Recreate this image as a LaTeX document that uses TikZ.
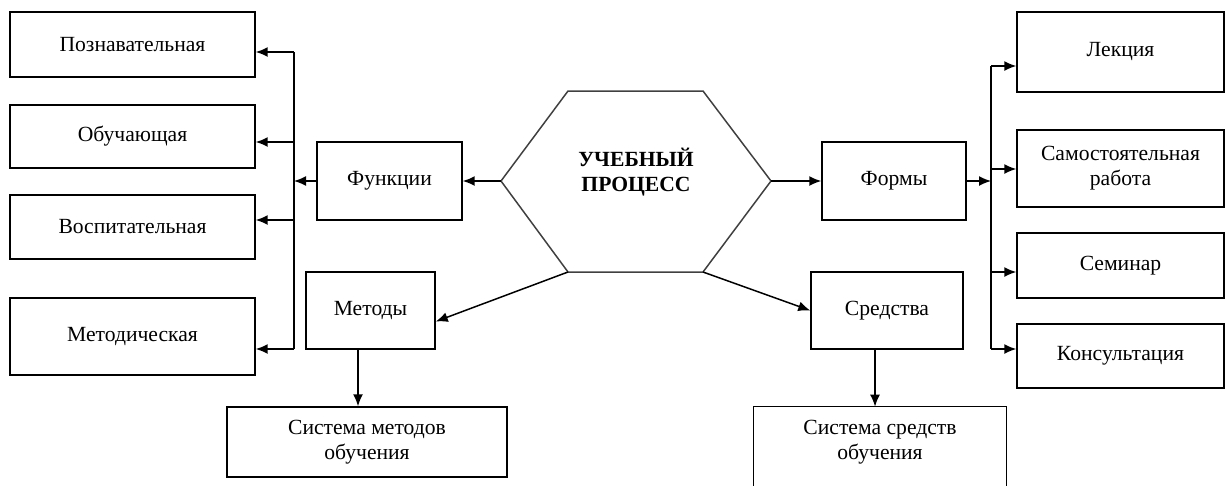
\documentclass[tikz,border=0pt]{standalone}
\usepackage{fontspec}
\setmainfont{Liberation Serif}
\usetikzlibrary{arrows.meta}
\tikzstyle{box}=[draw, rectangle, line width=0.85pt, align=center, inner sep=2pt, font=\fontsize{12.3}{14.2}\selectfont]
\tikzstyle{plain}=[rectangle, align=center, inner sep=2pt, font=\fontsize{12.3}{14.2}\selectfont]
\tikzstyle{arr}=[-{Latex[length=2.4mm,width=2mm]}, line width=0.85pt]

\begin{document}
\begin{tikzpicture}[x=0.02cm, y=-0.02cm]
  \useasboundingbox (0,0) rectangle (1226,485);

  % centre
  \coordinate (hl)  at (501,181);
  \coordinate (htl) at (568,91);
  \coordinate (htr) at (703,91);
  \coordinate (hr)  at (771,181);
  \coordinate (hbr) at (703,272);
  \coordinate (hbl) at (568,272);
  \draw[line width=0.85pt, black!75] (hl) -- (htl) -- (htr) -- (hr) -- (hbr) -- (hbl) -- cycle;
  \node[plain, font=\fontsize{12.3}{14.2}\selectfont\bfseries] (proc) at (636,172) {УЧЕБНЫЙ\\ПРОЦЕСС};

  % left side
  \node[box, minimum width=4.9cm, minimum height=1.3cm]  (poz)   at (132.5,44.5)  {Познавательная};
  \node[box, minimum width=4.9cm, minimum height=1.26cm] (obu)   at (132.5,136.5) {Обучающая};
  \node[box, minimum width=4.9cm, minimum height=1.28cm] (vos)   at (132.5,227)   {Воспитательная};
  \node[box, minimum width=4.9cm, minimum height=1.54cm] (metod) at (132.5,336.5) {Методическая};
  \node[box, minimum width=2.9cm, minimum height=1.56cm] (fun)   at (389.5,181)   {Функции};

  % right side
  \node[box, minimum width=2.88cm, minimum height=1.56cm] (form) at (894,181)      {Формы};
  \node[box, minimum width=4.14cm, minimum height=1.6cm]  (lek)  at (1120.5,52)    {Лекция};
  \node[box, minimum width=4.14cm, minimum height=1.54cm] (sam)  at (1120.5,168.5) {Самостоятельная\\работа};
  \node[box, minimum width=4.14cm, minimum height=1.3cm]  (sem)  at (1120.5,265.5) {Семинар};
  \node[box, minimum width=4.14cm, minimum height=1.28cm] (kon)  at (1120.5,356)   {Консультация};

  % bottom
  \node[box, minimum width=2.58cm, minimum height=1.54cm] (metody)   at (370.5,310.5) {Методы};
  \node[box, minimum width=3.04cm, minimum height=1.54cm] (sredstva) at (887,310.5)   {Средства};
  \node[box, minimum width=5.6cm, minimum height=1.4cm]   (sysmet)   at (367,442)     {Система методов\\обучения};
  \node[plain, minimum width=5.04cm, minimum height=1.4cm] (syssr)   at (880,442)     {Система средств\\обучения};
  \draw[line width=0.85pt] ([yshift=-1cm]syssr.south west) -- (syssr.north west) -- (syssr.north east) -- ([yshift=-1cm]syssr.south east);

  % buses
  \coordinate (l1) at (294,52);
  \coordinate (l2) at (294,142);
  \coordinate (l3) at (294,220);
  \coordinate (l4) at (294,349);
  \coordinate (r1) at (991,66);
  \coordinate (r2) at (991,169);
  \coordinate (r3) at (991,272);
  \coordinate (r4) at (991,349);
  \draw[line width=0.85pt] (l1) -- (l4);
  \draw[line width=0.85pt] (r1) -- (r4);

  \foreach \from/\to in {l1/poz, l2/obu, l3/vos, l4/metod}
  \draw[arr] (\from) -- (\from -| \to.east);
  \foreach \from/\to in {r1/lek, r2/sam, r3/sem, r4/kon}
  \draw[arr] (\from) -- (\from -| \to.west);

  \draw[arr] (hl) -- (fun.east);
  \draw[arr] (fun.west) -- (fun.west -| l1);
  \draw[arr] (hr) -- (form.west);
  \draw[arr] (form.east) -- (form.east -| r1);

  \draw[arr] (hbl) -- ([yshift=-0.22cm]metody.east);
  \draw[arr] (hbr) -- (sredstva.west);

  \coordinate (m1) at ([xshift=-0.25cm]metody.south);
  \coordinate (s1) at ([xshift=-0.24cm]sredstva.south);
  \draw[arr] (m1) -- (m1 |- sysmet.north);
  \draw[arr] (s1) -- (s1 |- syssr.north);
\end{tikzpicture}
\end{document}
